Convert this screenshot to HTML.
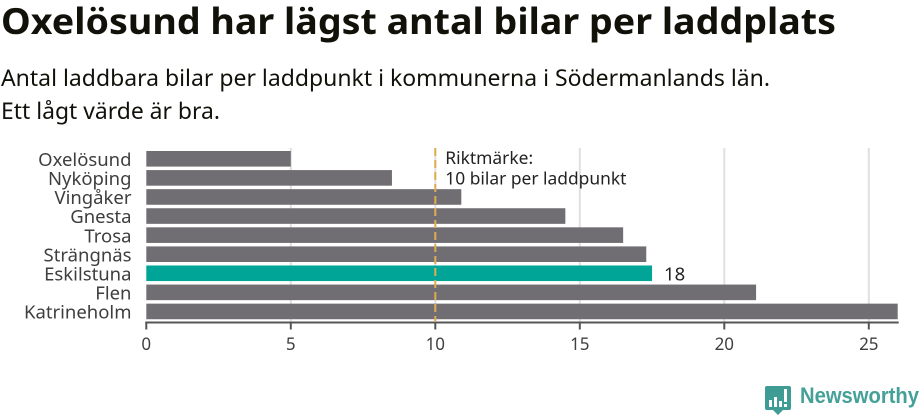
<!DOCTYPE html>
<html lang="sv">
<head>
<meta charset="utf-8">
<title>Oxelösund har lägst antal bilar per laddplats</title>
<style>
html,body{margin:0;padding:0;background:#fff;width:920px;height:415px;overflow:hidden}
svg{display:block;font-family:"Noto Sans","Liberation Sans","Noto Sans CJK SC",sans-serif}
</style>
</head>
<body>
<svg id="chart" width="920" height="415" viewBox="0 0 920 415" xmlns="http://www.w3.org/2000/svg">
  <text x="1" y="34" font-size="36" font-weight="700" fill="#11110a" textLength="835" lengthAdjust="spacingAndGlyphs">Oxelösund har lägst antal bilar per laddplats</text>
  <text x="1" y="86" font-size="22.5" fill="#11110a" textLength="769" lengthAdjust="spacingAndGlyphs">Antal laddbara bilar per laddpunkt i kommunerna i Södermanlands län.</text>
  <text x="1" y="119" font-size="22.5" fill="#11110a" textLength="219" lengthAdjust="spacingAndGlyphs">Ett lågt värde är bra.</text>
  <g id="grid"></g>
  <g id="bars"></g>
  <g id="labels"></g>
  <g id="axis"></g>
  <g id="ref"></g>
  <g>
    <path d="M767 386h22a2 2 0 0 1 2 2v20a2 2 0 0 1-2 2h-6l-5 5-5-5h-6a2 2 0 0 1-2-2v-20a2 2 0 0 1 2-2z" fill="#3f9c94"/>
    <g fill="#fff">
      <rect x="769" y="400" width="3" height="7"/>
      <rect x="774" y="397" width="3" height="10"/>
      <rect x="779" y="401" width="3" height="6"/>
      <rect x="784" y="389" width="3" height="13"/>
      <rect x="784" y="404" width="3" height="3"/>
    </g>
    <text x="800" y="403" font-size="22" font-weight="700" fill="#45a097" style="font-family:'Liberation Sans',sans-serif" textLength="119" lengthAdjust="spacingAndGlyphs">Newsworthy</text>
  </g>
</svg>
<script>
var categories = ["Oxelösund","Nyköping","Vingåker","Gnesta","Trosa","Strängnäs","Eskilstuna","Flen","Katrineholm"];
var values = [5, 8.5, 10.9, 14.5, 16.5, 17.3, 17.5, 21.1, 26];
var highlightCategory = "Eskilstuna";
var highlightLabel = "18";
var xTicks = [0, 5, 10, 15, 20, 25];
var benchmarkValue = 10;
var benchmarkLines = ["Riktmärke:", "10 bilar per laddpunkt"];

var NS = "http://www.w3.org/2000/svg";
function xScale(v){ return 146.3 + v * 28.9; }
function yScale(i){ return 151 + i * 19.08; }
var barHeight = 15.6;
function make(tag, attrs, parent, text){
  var el = document.createElementNS(NS, tag);
  for (var k in attrs) el.setAttribute(k, attrs[k]);
  if (text !== undefined) el.textContent = text;
  parent.appendChild(el);
  return el;
}
var gGrid = document.getElementById("grid");
var gBars = document.getElementById("bars");
var gLabels = document.getElementById("labels");
var gAxis = document.getElementById("axis");
var gRef = document.getElementById("ref");

xTicks.forEach(function(t){
  if (t === 0) return;
  var line = make("line", {x1:xScale(t), x2:xScale(t), y1:148, y2:322, stroke:"#e0e0e0", "stroke-width":2}, gGrid);
  
  
});

categories.forEach(function(c, i){
  var isHighlight = c === highlightCategory;
  var bar = make("rect", {x:xScale(0), y:yScale(i), width:xScale(values[i]) - xScale(0), height:barHeight, fill:isHighlight ? "#00a598" : "#706e73"}, gBars);
  
  
  var label = make("text", {x:131.5, y:yScale(i) + 15, "text-anchor":"end", "font-size":18.5, fill:"#3e3e3e"}, gLabels, c);
  
  
  if (isHighlight) {
    var valueLabel = make("text", {x:xScale(values[i]) + 12, y:yScale(i) + 15, "font-size":18.5, fill:"#222"}, gBars, highlightLabel);
    
    
  }
});

var domain = make("line", {x1:xScale(0) - 1, x2:xScale(26) + 1, y1:322.5, y2:322.5, stroke:"#555", "stroke-width":2}, gAxis);


xTicks.forEach(function(t){
  var tick = make("line", {x1:xScale(t), x2:xScale(t), y1:322, y2:329.5, stroke:"#555", "stroke-width":2}, gAxis);
  
  
  var tl = make("text", {x:xScale(t), y:350, "text-anchor":"middle", "font-size":17, fill:"#3e3e3e"}, gAxis, String(t));
  
  
});

var refLine = make("line", {x1:xScale(benchmarkValue), x2:xScale(benchmarkValue), y1:148, y2:322, stroke:"#e0ac52", "stroke-width":2, "stroke-dasharray":"8 4"}, gRef);


benchmarkLines.forEach(function(s, i){
  var t = make("text", {x:xScale(benchmarkValue) + 10, y:164 + i * 20.5, "font-size":17.4, fill:"#222"}, gRef, s);
  
  
});
</script>
</body>
</html>
